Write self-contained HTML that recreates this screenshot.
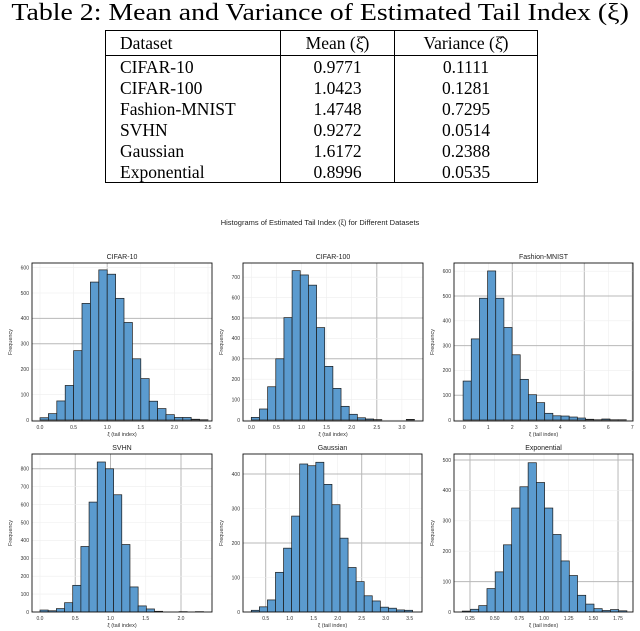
<!DOCTYPE html>
<html><head><meta charset="utf-8"><style>
body{margin:0;background:#fff;width:640px;height:631px;overflow:hidden;position:relative;font-family:"Liberation Serif",serif}
#title{position:absolute;left:0;top:0;width:640px;text-align:center;white-space:nowrap}
#title span{display:inline-block;font-size:24px;line-height:26px;transform:scaleX(1.16);transform-origin:center}
table{position:absolute;left:105px;top:30px;border-collapse:collapse;table-layout:fixed;width:432px;font-size:17.5px;line-height:20px}
td{border-left:1.3px solid #000;border-right:1.3px solid #000;padding:0 0 0 14px;height:21px;white-space:nowrap;overflow:hidden}
td.c{text-align:center;padding:0}
tr.h td{border-top:1.3px solid #000;border-bottom:1.3px solid #000;height:24px}
tr.last td{border-bottom:1.3px solid #000}
svg{position:absolute;left:0;top:0}
</style></head><body>
<div id="title"><span>Table 2: Mean and Variance of Estimated Tail Index (ξ)</span></div>
<table>
<colgroup><col style="width:175px"><col style="width:114px"><col style="width:143px"></colgroup>
<tr class="h"><td>Dataset</td><td class="c">Mean (ξ̂)</td><td class="c">Variance (ξ̂)</td></tr>
<tr><td>CIFAR-10</td><td class="c">0.9771</td><td class="c">0.1111</td></tr>
<tr><td>CIFAR-100</td><td class="c">1.0423</td><td class="c">0.1281</td></tr>
<tr><td>Fashion-MNIST</td><td class="c">1.4748</td><td class="c">0.7295</td></tr>
<tr><td>SVHN</td><td class="c">0.9272</td><td class="c">0.0514</td></tr>
<tr><td>Gaussian</td><td class="c">1.6172</td><td class="c">0.2388</td></tr>
<tr class="last"><td>Exponential</td><td class="c">0.8996</td><td class="c">0.0535</td></tr>
</table>
<svg id="chart" width="640" height="631"></svg>
<script>
const datasets=["CIFAR-10","CIFAR-100","Fashion-MNIST","SVHN","Gaussian","Exponential"];
const binStarts=[0.0,0.0,-0.05,0.0,0.2,0.172];
const binWidths=[0.125,0.1625,0.34,0.116,0.168,0.0834];
const cifar10Counts=[9,25,75,136,273,459,543,591,574,479,384,241,163,74,45,21,10,10,3,1];
const cifar100Counts=[13,54,163,300,502,732,711,661,453,263,155,67,28,11,5,2,0,0,0,3];
const fashionCounts=[157,327,491,601,491,373,263,164,102,70,27,17,16,12,8,3,1,4,1,1];
const svhnCounts=[11,7,19,52,149,366,614,838,800,655,377,140,34,17,4,0,0,2,0,2];
const gaussianCounts=[5,15,35,115,185,278,429,424,434,370,311,214,129,88,47,32,14,11,6,5];
const exponentialCounts=[3,9,21,77,132,221,342,412,491,426,342,255,168,120,55,26,11,5,8,4];
const allCounts=[cifar10Counts,cifar100Counts,fashionCounts,svhnCounts,gaussianCounts,exponentialCounts];
const xTicks=[[0,0.5,1,1.5,2,2.5],[0,0.5,1,1.5,2,2.5,3],[0,1,2,3,4,5,6,7],[0,0.5,1,1.5,2],[0.5,1,1.5,2,2.5,3,3.5],[0.25,0.5,0.75,1,1.25,1.5,1.75]];
const xTickLabels=[["0.0","0.5","1.0","1.5","2.0","2.5"],["0.0","0.5","1.0","1.5","2.0","2.5","3.0"],["0","1","2","3","4","5","6","7"],["0.0","0.5","1.0","1.5","2.0"],["0.5","1.0","1.5","2.0","2.5","3.0","3.5"],["0.25","0.50","0.75","1.00","1.25","1.50","1.75"]];
const yTicks=[[0,100,200,300,400,500,600],[0,100,200,300,400,500,600,700],[0,100,200,300,400,500,600],[0,100,200,300,400,500,600,700,800],[0,100,200,300,400],[0,100,200,300,400,500]];
const heavyY=[[300,400],[300,500],[100,300,500],[800],[200,400],[100,500]];
const heavyX=[[1],[2.5],[2,5,7],[0.5,1,2],[0.5,2.5],[0.25,1.75]];
const L=[
 {fx:32,fy:263,fw:180,fh:158,x0:40,xu:67.2,yb:420,yu:25.4},
 {fx:243,fy:263,fw:180,fh:158,x0:251.3,xu:50.2,yb:420,yu:20.4},
 {fx:454,fy:263,fw:179,fh:158,x0:464.3,xu:24,yb:420,yu:24.8},
 {fx:32,fy:454,fw:180,fh:158,x0:40,xu:70.5,yb:612,yu:17.9},
 {fx:243,fy:454,fw:179,fh:158,x0:241.7,xu:48,yb:612,yu:34.5},
 {fx:454,fy:454,fw:179,fh:158,x0:445.3,xu:98.7,yb:612,yu:30.4}];
const svg=document.getElementById('chart');
const NS='http://www.w3.org/2000/svg';
function mk(t,a,p){const e=document.createElementNS(NS,t);for(const k in a)e.setAttribute(k,a[k]);(p||svg).appendChild(e);return e;}
const st=mk('text',{x:320,y:225,'text-anchor':'middle','font-size':7.5,'font-family':'Liberation Sans, DejaVu Sans, sans-serif',fill:'#222'});
st.textContent='Histograms of Estimated Tail Index (ξ) for Different Datasets';


datasets.forEach((name,i)=>{
 const l=L[i];
 const xs=v=>l.x0+v*l.xu, ys=v=>l.yb-v/100*l.yu;
 const g=mk('g',{});
 
 
 const cp='cp'+i;
 const c=mk('clipPath',{id:cp},g);mk('rect',{x:l.fx,y:l.fy,width:l.fw,height:l.fh},c);
 const gg=mk('g',{'clip-path':'url(#'+cp+')'},g);
 xTicks[i].forEach(v=>{const h=heavyX[i].includes(v);mk('line',{x1:xs(v),x2:xs(v),y1:l.fy,y2:l.fy+l.fh,stroke:h?'#b8b8b8':'#eeeeee','stroke-width':h?1:0.6},gg);});
 yTicks[i].forEach(v=>{const h=heavyY[i].includes(v);mk('line',{x1:l.fx,x2:l.fx+l.fw,y1:ys(v),y2:ys(v),stroke:h?'#b8b8b8':'#eeeeee','stroke-width':h?1:0.6},gg);});
 allCounts[i].forEach((cnt,j)=>{
  const a=binStarts[i]+j*binWidths[i];
  const r=mk('rect',{x:xs(a),y:ys(cnt),width:binWidths[i]*l.xu,height:Math.max(0,ys(0)-ys(cnt)),fill:'#5b9bcf',stroke:'#1a1a1a','stroke-width':0.7},gg);
  
  
 });
 mk('rect',{x:l.fx,y:l.fy,width:l.fw,height:l.fh,fill:'none',stroke:'#111','stroke-width':0.9},g);
 xTicks[i].forEach((v,k)=>{const t=mk('text',{x:xs(v),y:l.fy+l.fh+8,'text-anchor':'middle','font-size':5,'font-family':'Liberation Sans, sans-serif',fill:'#333'},g);t.textContent=xTickLabels[i][k];});
 yTicks[i].forEach(v=>{const t=mk('text',{x:l.fx-3,y:ys(v)+1.8,'text-anchor':'end','font-size':5,'font-family':'Liberation Sans, sans-serif',fill:'#333'},g);t.textContent=String(v);});
 const tt=mk('text',{x:l.fx+l.fw/2,y:l.fy-4,'text-anchor':'middle','font-size':7,'font-family':'Liberation Sans, sans-serif',fill:'#222'},g);tt.textContent=name;
 
 
 const xl=mk('text',{x:l.fx+l.fw/2,y:l.fy+l.fh+15,'text-anchor':'middle','font-size':5.5,'font-family':'Liberation Sans, sans-serif',fill:'#333'},g);xl.textContent='ξ (tail index)';
 
 
 const yx=l.fx-20,yy=l.fy+l.fh/2;
 const yl=mk('text',{x:yx,y:yy,'text-anchor':'middle','font-size':5.5,'font-family':'Liberation Sans, sans-serif',fill:'#333',transform:'rotate(-90 '+yx+' '+yy+')'},g);yl.textContent='Frequency';
 
 
});
</script>
</body></html>
